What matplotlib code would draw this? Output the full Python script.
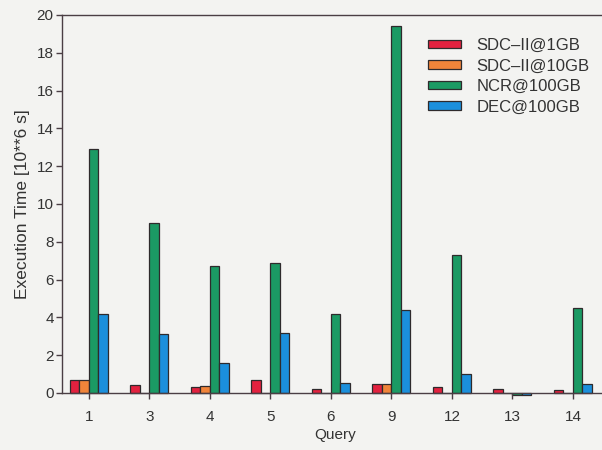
import matplotlib
matplotlib.use('Agg')
import matplotlib.pyplot as plt
import numpy as np

plt.rcParams['font.family'] = ['Liberation Sans', 'DejaVu Sans']

queries = ['1', '3', '4', '5', '6', '9', '12', '13', '14']
series_names = ['SDC\u2013II@1GB', 'SDC\u2013II@10GB', 'NCR@100GB', 'DEC@100GB']
sdc_1gb = [0.7, 0.4, 0.33, 0.7, 0.2, 0.46, 0.33, 0.21, 0.15]
sdc_10gb = [0.7, 0.0, 0.39, 0.0, 0.0, 0.47, 0.0, 0.0, 0.0]
ncr_100gb = [12.9, 9.0, 6.7, 6.9, 4.2, 19.4, 7.3, -0.12, 4.5]
dec_100gb = [4.2, 3.1, 1.6, 3.2, 0.55, 4.4, 1.0, -0.12, 0.5]
colors = ['#e2213f', '#f0843a', '#1b9a64', '#1b8fdc']

bg = '#f3f3f1'
fig = plt.figure(figsize=(6.02, 4.5), dpi=100, facecolor=bg)
ax = fig.add_axes([62 / 602, 57 / 450, 1 - 62 / 602 + 0.01, 378 / 450])
ax.set_facecolor(bg)

x = np.arange(len(queries))
w = 0.157
all_series = [sdc_1gb, sdc_10gb, ncr_100gb, dec_100gb]
for i, (vals, name, col) in enumerate(zip(all_series, series_names, colors)):
    bars = ax.bar(x + (i - 2) * w, vals, width=w, align='edge', color=col,
                  edgecolor='#2e2a2c', linewidth=0.9, label=name)
    for b in bars:
        b.set_clip_on(False)  # lets the near-zero bars at query 13 show

ax.set_xlim(-0.446, 8.48 + 0.1)
ax.set_ylim(0, 20)
ax.set_yticks(np.arange(0, 21, 2))
ax.set_xticks(x, labels=queries)

ax.spines['right'].set_visible(False)
for side in ['left', 'top', 'bottom']:
    ax.spines[side].set_color('#4a3e44')
    ax.spines[side].set_linewidth(1.0)
ax.tick_params(axis='both', colors='#4a3e44', labelcolor='#333333',
               labelsize=11, length=4, width=1.0, direction='out')
ax.tick_params(axis='x', pad=8)
ax.tick_params(axis='y', pad=2)

ax.set_xlabel('Query', fontsize=11, color='#333333', labelpad=3)
ax.set_ylabel('Execution Time [10**6 s]', fontsize=12.5, color='#333333',
              labelpad=5)

leg = ax.legend(loc='upper left', bbox_to_anchor=(428 / 602, 1 - 38 / 450),
                bbox_transform=fig.transFigure, frameon=False, fontsize=12,
                borderpad=0, borderaxespad=0, handlelength=2.0,
                handleheight=0.4, handletextpad=0.9, labelspacing=0.33)
for t in leg.get_texts():
    t.set_color('#333333')

fig.savefig('out.png', dpi=100, facecolor=bg)
